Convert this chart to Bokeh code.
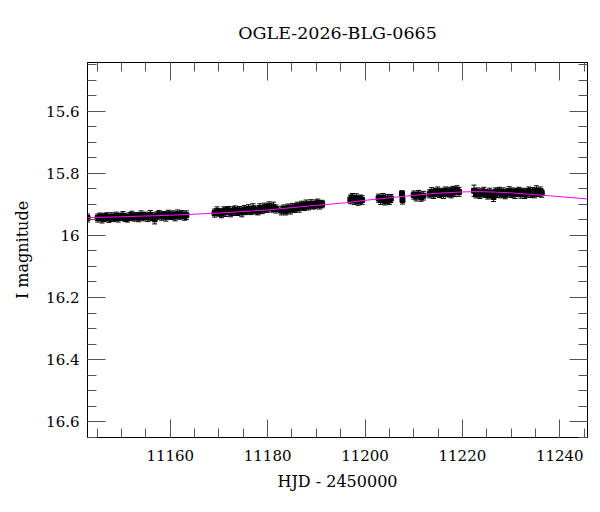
import numpy as np
from bokeh.plotting import figure
from bokeh.models import (Range1d, LinearAxis, SingleIntervalTicker, CustomJSTickFormatter,
                          ColumnDataSource, Whisker, TeeHead)
from bokeh.embed import file_html
from bokeh.resources import INLINE

TITLE = "OGLE-2026-BLG-0665"
X_LABEL = "HJD - 2450000"
Y_LABEL = "I magnitude"

seg1_hjd = [11143.0, 11145.1, 11145.6, 11146.0, 11146.5, 11147.0, 11147.4, 11147.9, 11148.4, 11148.9,
            11149.3, 11149.8, 11150.3, 11150.7, 11151.2, 11151.7, 11152.1, 11152.6, 11153.1, 11153.5,
            11154.0, 11154.5, 11154.9, 11155.4, 11155.9, 11156.3, 11156.8, 11157.3, 11157.7, 11158.2,
            11158.7, 11159.1, 11159.6, 11160.1, 11160.5, 11161.0, 11161.5, 11161.9, 11162.4, 11162.9,
            11163.3]
seg1_mag = [15.944, 15.944, 15.940, 15.946, 15.942, 15.939, 15.945, 15.941, 15.943, 15.938,
            15.944, 15.940, 15.937, 15.942, 15.945, 15.939, 15.936, 15.941, 15.938, 15.943,
            15.935, 15.940, 15.937, 15.942, 15.934, 15.939, 15.948, 15.936, 15.933, 15.938,
            15.935, 15.940, 15.932, 15.937, 15.934, 15.939, 15.931, 15.936, 15.933, 15.938,
            15.935]
seg1_err = [0.013, 0.013, 0.012, 0.014, 0.013, 0.012, 0.013, 0.014, 0.012, 0.013,
            0.013, 0.012, 0.014, 0.013, 0.012, 0.013, 0.014, 0.013, 0.012, 0.013,
            0.014, 0.013, 0.012, 0.013, 0.014, 0.013, 0.015, 0.012, 0.013, 0.013,
            0.012, 0.014, 0.013, 0.012, 0.013, 0.014, 0.013, 0.012, 0.013, 0.013,
            0.014]

seg2_hjd = [11169.1, 11169.6, 11170.0, 11170.5, 11171.0, 11171.4, 11171.9, 11172.4, 11172.8, 11173.3,
            11173.8, 11174.2, 11174.7, 11175.2, 11175.6, 11176.1, 11176.6, 11177.0, 11177.5, 11178.0,
            11178.4, 11178.9, 11179.4, 11179.8, 11180.3, 11180.8, 11181.2, 11181.7,
            11182.8, 11183.3, 11183.7, 11184.2, 11184.7, 11185.1, 11185.6, 11186.1, 11186.5, 11187.0,
            11187.5, 11187.9, 11188.4, 11188.9, 11189.3, 11189.8, 11190.3, 11190.7, 11191.2]
seg2_mag = [15.928, 15.922, 15.926, 15.930, 15.921, 15.925, 15.919, 15.927, 15.922, 15.918,
            15.924, 15.920, 15.926, 15.917, 15.921, 15.915, 15.920, 15.913, 15.918, 15.922,
            15.912, 15.917, 15.909, 15.914, 15.906, 15.912, 15.908, 15.915,
            15.920, 15.915, 15.922, 15.912, 15.917, 15.910, 15.914, 15.906, 15.911, 15.903,
            15.908, 15.900, 15.905, 15.898, 15.903, 15.900, 15.896, 15.902, 15.899]
seg2_err = [0.013, 0.014, 0.012, 0.013, 0.013, 0.014, 0.012, 0.013, 0.014, 0.013,
            0.012, 0.013, 0.014, 0.013, 0.012, 0.014, 0.013, 0.015, 0.013, 0.012,
            0.014, 0.013, 0.013, 0.012, 0.014, 0.013, 0.015, 0.013,
            0.014, 0.013, 0.012, 0.013, 0.014, 0.013, 0.012, 0.013, 0.014, 0.013,
            0.012, 0.014, 0.013, 0.013, 0.012, 0.014, 0.013, 0.013, 0.012]

seg3_hjd = [11197.0, 11197.4, 11197.8, 11198.2, 11198.6, 11199.0, 11199.4,
            11202.8, 11203.2, 11203.7, 11204.1, 11204.6, 11205.0, 11205.3,
            11207.6, 11207.7,
            11210.0, 11210.5, 11211.0, 11211.5, 11212.0,
            11213.3, 11213.7, 11214.1, 11214.5, 11214.9, 11215.3, 11215.7, 11216.1, 11216.5, 11216.9,
            11217.3, 11217.7, 11218.1, 11218.5, 11218.9, 11219.3]
seg3_mag = [15.884, 15.878, 15.887, 15.880, 15.890, 15.883, 15.886,
            15.880, 15.886, 15.878, 15.889, 15.882, 15.887, 15.881,
            15.866, 15.886,
            15.870, 15.875, 15.868, 15.877, 15.872,
            15.866, 15.860, 15.868, 15.862, 15.858, 15.865, 15.861, 15.867, 15.857, 15.863,
            15.859, 15.866, 15.855, 15.861, 15.853, 15.860]
seg3_err = [0.014, 0.013, 0.013, 0.014, 0.013, 0.013, 0.014,
            0.013, 0.014, 0.013, 0.013, 0.014, 0.013, 0.013,
            0.010, 0.013,
            0.013, 0.014, 0.013, 0.013, 0.014,
            0.013, 0.014, 0.013, 0.013, 0.014, 0.013, 0.013, 0.014, 0.013, 0.013,
            0.014, 0.013, 0.013, 0.014, 0.013, 0.014]

seg4_hjd = [11222.4, 11222.8, 11223.2, 11223.6, 11224.0, 11224.4, 11224.8, 11225.2, 11225.6, 11226.0,
            11226.4, 11226.8, 11227.2, 11227.6, 11228.0, 11228.4, 11228.8, 11229.2, 11229.6, 11230.0,
            11230.4, 11230.8, 11231.2, 11231.6, 11232.0, 11232.4, 11232.8, 11233.2, 11233.6, 11234.0,
            11234.4, 11234.8, 11235.2, 11235.6, 11236.0, 11236.3]
seg4_mag = [15.856, 15.866, 15.861, 15.868, 15.863, 15.859, 15.865, 15.870, 15.862, 15.867,
            15.876, 15.860, 15.864, 15.858, 15.866, 15.861, 15.869, 15.863, 15.857, 15.865,
            15.860, 15.867, 15.862, 15.858, 15.866, 15.861, 15.868, 15.863, 15.857, 15.865,
            15.860, 15.866, 15.855, 15.862, 15.858, 15.864]
seg4_err = [0.018, 0.013, 0.014, 0.013, 0.013, 0.014, 0.013, 0.013, 0.014, 0.013,
            0.015, 0.013, 0.014, 0.013, 0.013, 0.014, 0.013, 0.013, 0.014, 0.013,
            0.013, 0.014, 0.013, 0.013, 0.014, 0.013, 0.013, 0.014, 0.013, 0.013,
            0.014, 0.013, 0.015, 0.013, 0.014, 0.013]

model_hjd = [11140.0, 11150.0, 11160.0, 11170.0, 11180.0, 11190.0, 11196.0, 11200.0, 11205.0,
             11210.0, 11215.0, 11220.0, 11223.0, 11226.0, 11230.0, 11235.0, 11240.0, 11246.0]
model_mag = [15.944, 15.940, 15.935, 15.928, 15.918, 15.903, 15.895, 15.887, 15.879,
             15.871, 15.864, 15.860, 15.859, 15.860, 15.863, 15.869, 15.875, 15.883]

X_RANGE = (11143.0, 11245.7)
Y_RANGE = (16.651, 15.443)

FONT = "DejaVu Serif"

hjd = np.array(seg1_hjd + seg2_hjd + seg3_hjd + seg4_hjd)
mag = np.array(seg1_mag + seg2_mag + seg3_mag + seg4_mag)
err = np.array(seg1_err + seg2_err + seg3_err + seg4_err)

src = ColumnDataSource(dict(x=hjd, y=mag, upper=mag + err, lower=mag - err))

p = figure(width=592, height=500, output_backend="svg", toolbar_location=None,
           x_range=Range1d(*X_RANGE), y_range=Range1d(*Y_RANGE),
           min_border_left=87, min_border_right=5, min_border_top=62, min_border_bottom=63,
           x_axis_location=None, y_axis_location=None)

p.title.text = TITLE
p.title.align = "center"
p.title.text_font = FONT
p.title.text_font_size = "17.5px"
p.title.text_font_style = "normal"
p.title.text_color = "black"
p.title.standoff = 40

p.xgrid.visible = False
p.ygrid.visible = False
p.outline_line_color = "black"
p.outline_line_width = 1
p.background_fill_color = "white"
p.border_fill_color = "white"

xfmt = CustomJSTickFormatter(code="return tick.toFixed(0);")
yfmt = CustomJSTickFormatter(code="var s = tick.toFixed(1); return s.replace(/\\.0$/, '');")
blank = CustomJSTickFormatter(code="return '';")

def style_axis(ax, show_labels):
    ax.major_tick_in = 18
    ax.major_tick_out = 0
    ax.minor_tick_in = 9
    ax.minor_tick_out = 0
    ax.major_tick_line_color = "#555555"
    ax.minor_tick_line_color = "#555555"
    ax.axis_line_color = "black"
    ax.major_label_text_font = FONT
    ax.axis_label_text_font = FONT
    ax.axis_label_text_font_style = "normal"
    ax.axis_label_text_color = "black"
    if show_labels:
        ax.major_label_text_color = "black"
        ax.major_label_text_font_size = "15px"
        ax.axis_label_text_font_size = "16px"
    else:
        ax.major_label_text_color = None
        ax.major_label_standoff = 0

xb = LinearAxis(ticker=SingleIntervalTicker(interval=20, num_minor_ticks=4), formatter=xfmt,
                axis_label=X_LABEL)
style_axis(xb, True)
xb.major_label_standoff = 12
xb.axis_label_standoff = 8
p.add_layout(xb, "below")

xt = LinearAxis(ticker=SingleIntervalTicker(interval=20, num_minor_ticks=4), formatter=blank)
style_axis(xt, False)
p.add_layout(xt, "above")

yl = LinearAxis(ticker=SingleIntervalTicker(interval=0.2, num_minor_ticks=4), formatter=yfmt,
                axis_label=Y_LABEL)
style_axis(yl, True)
yl.major_label_standoff = 8
yl.axis_label_standoff = 11
p.add_layout(yl, "left")

yr = LinearAxis(ticker=SingleIntervalTicker(interval=0.2, num_minor_ticks=4), formatter=blank)
style_axis(yr, False)
p.add_layout(yr, "right")

wh = Whisker(source=src, base="x", upper="upper", lower="lower", dimension="height",
             line_color="black", line_width=1,
             upper_head=TeeHead(size=5, line_color="black", line_width=1),
             lower_head=TeeHead(size=5, line_color="black", line_width=1))
p.add_layout(wh)

p.scatter("x", "y", source=src, marker="square", size=5, fill_color="black", line_color="black")

p.line(model_hjd, model_mag, line_color="#ff00ff", line_width=1)

open("out.html", "w").write(file_html(p, INLINE))
